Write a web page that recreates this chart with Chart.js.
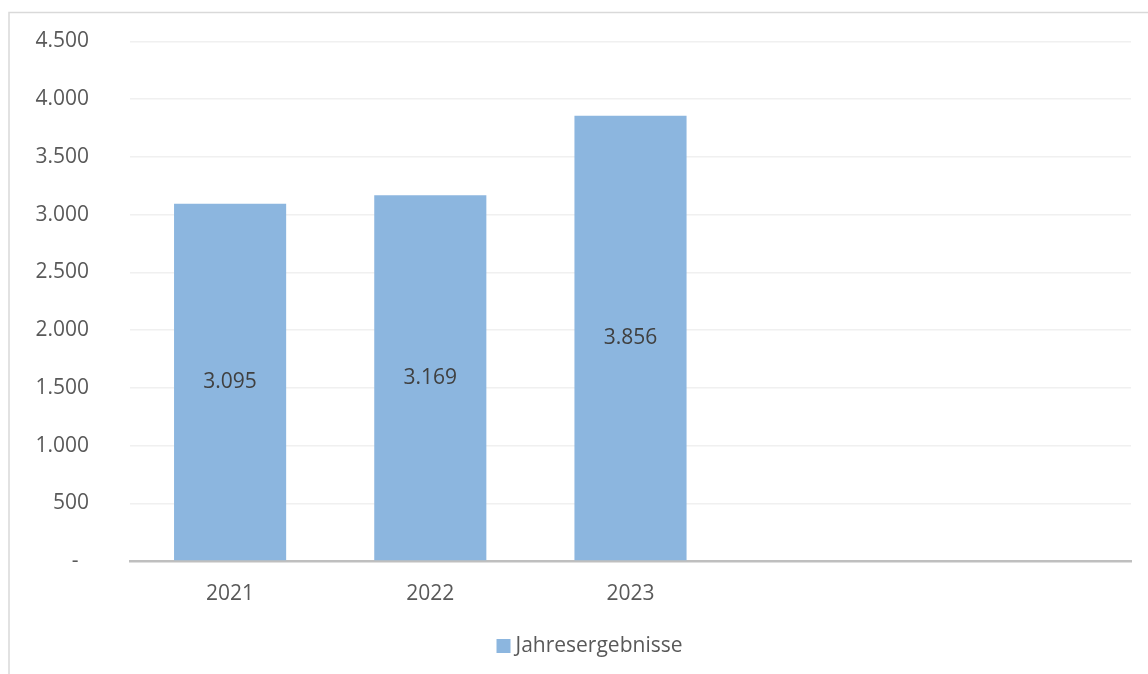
<!DOCTYPE html>
<html>
<head>
<meta charset="utf-8">
<script src="https://cdn.jsdelivr.net/npm/chart.js@4/dist/chart.umd.min.js"></script>
<style>
  html, body { margin: 0; padding: 0; background: #ffffff; }
  #wrap { position: relative; width: 1148px; height: 674px; }
  canvas { display: block; }
</style>
</head>
<body>
<div id="wrap"><canvas id="c" width="1148" height="674"></canvas></div>
<script>
const categories = ['2021', '2022', '2023', '', ''];
const seriesLabel = 'Jahresergebnisse';
const jahresergebnisse = [3095, 3169, 3856, null, null];
const yTickValues = [0, 500, 1000, 1500, 2000, 2500, 3000, 3500, 4000, 4500];

const FONT = "'Open Sans', 'Liberation Sans', sans-serif";
const FS = 21;
const BAR_COLOR = '#8cb6df';

function fmtDE(v) {
  return Math.round(v).toString().replace(/\B(?=(\d{3})+(?!\d))/g, '.');
}

const framePlugin = {
  id: 'frame',
  beforeDraw(chart) {
    const ctx = chart.ctx;
    ctx.save();
    ctx.strokeStyle = '#d9d9d9';
    ctx.lineWidth = 1.5;
    ctx.beginPath();
    ctx.moveTo(9, 674);
    ctx.lineTo(9, 12.5);
    ctx.lineTo(1148, 12.5);
    ctx.stroke();
    ctx.restore();
  }
};

const dataLabelPlugin = {
  id: 'dataLabels',
  afterDatasetsDraw(chart) {
    const ctx = chart.ctx;
    ctx.save();
    ctx.font = FS + 'px ' + FONT;
    ctx.fillStyle = '#404040';
    ctx.textAlign = 'center';
    ctx.textBaseline = 'middle';
    chart.data.datasets.forEach((ds, di) => {
      const meta = chart.getDatasetMeta(di);
      meta.data.forEach((el, i) => {
        const v = ds.data[i];
        if (v === null || v === undefined) return;
        const p = el.getProps(['x', 'y', 'base'], true);
        ctx.fillText(fmtDE(v), p.x, (p.y + p.base) / 2);
      });
    });
    ctx.restore();
  }
};

const legendPlugin = {
  id: 'customLegend',
  afterDraw(chart) {
    const ctx = chart.ctx;
    const ds = chart.data.datasets[0];
    ctx.save();
    ctx.font = FS + 'px ' + FONT;
    const tw = ctx.measureText(ds.label).width;
    const box = 14, gap = 5;
    const total = box + gap + tw;
    const cx = 589.5, cy = 646;
    const x0 = cx - total / 2;
    ctx.fillStyle = ds.backgroundColor;
    ctx.fillRect(x0, cy - box / 2, box, box);
    ctx.fillStyle = '#595959';
    ctx.textAlign = 'left';
    ctx.textBaseline = 'middle';
    ctx.fillText(ds.label, x0 + box + gap, cy);
    ctx.restore();
  }
};

new Chart(document.getElementById('c'), {
  type: 'bar',
  data: {
    labels: categories,
    datasets: [{
      label: seriesLabel,
      data: jahresergebnisse,
      backgroundColor: BAR_COLOR,
      borderWidth: 0,
      barPercentage: 0.56,
      categoryPercentage: 1.0
    }]
  },
  options: {
    responsive: false,
    animation: false,
    devicePixelRatio: 1,
    layout: { padding: { left: 0, right: 17, top: 41.5, bottom: 48 } },
    plugins: {
      legend: { display: false },
      tooltip: { enabled: false },
      title: { display: false }
    },
    scales: {
      x: {
        grid: { display: false, drawTicks: false },
        border: { display: true, color: '#bfbfbf', width: 2.5 },
        ticks: {
          color: '#595959',
          font: { family: FONT, size: FS },
          padding: 20,
          maxRotation: 0,
          autoSkip: false
        },
        afterFit(scale) { scale.height = 65; scale.paddingLeft = 0; scale.paddingRight = 0; }
      },
      y: {
        min: 0,
        max: 4500,
        afterBuildTicks(scale) {
          scale.ticks = yTickValues.map(v => ({ value: v }));
        },
        grid: { color: '#f0f0f0', lineWidth: 1.5, drawTicks: false },
        border: { display: false },
        ticks: {
          color: '#595959',
          font: { family: FONT, size: FS },
          padding: 41,
          callback(value) {
            return value === 0 ? '-\u2009\u2009\u2009' : fmtDE(value);
          }
        },
        afterFit(scale) { scale.width = 130; scale.paddingTop = 0; scale.paddingBottom = 0; }
      }
    }
  },
  plugins: [framePlugin, dataLabelPlugin, legendPlugin]
});
</script>
</body>
</html>
